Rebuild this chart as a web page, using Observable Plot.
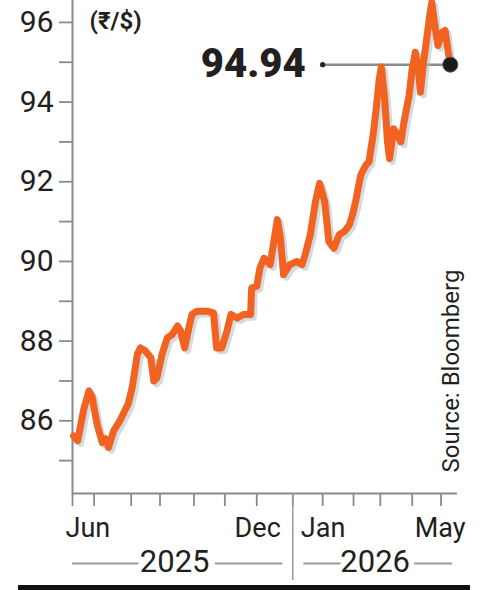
<!DOCTYPE html>
<html>
<head>
<meta charset="utf-8">
<script src="https://cdn.jsdelivr.net/npm/d3@7"></script>
<script src="https://cdn.jsdelivr.net/npm/@observablehq/plot@0.6"></script>
<style>
  html, body { margin: 0; padding: 0; background: #fff; }
  #chart svg { display: block; }
  .bar { margin-left: 18px; width: 452px; height: 5px; background: #111; }
</style>
</head>
<body>
<div id="chart"></div>
<div class="bar"></div>
<script>
// ---- data (₹ per US$) ----
const dates = ["2025-06-02","2025-06-06","2025-06-12","2025-06-17","2025-06-20","2025-06-25","2025-06-30","2025-07-03","2025-07-06","2025-07-11","2025-07-17","2025-07-25","2025-07-29","2025-08-03","2025-08-06","2025-08-11","2025-08-16","2025-08-19","2025-08-22","2025-08-27","2025-09-01","2025-09-06","2025-09-11","2025-09-14","2025-09-18","2025-09-22","2025-09-25","2025-09-30","2025-10-10","2025-10-16","2025-10-19","2025-10-24","2025-10-29","2025-11-02","2025-11-08","2025-11-14","2025-11-21","2025-11-22","2025-11-27","2025-11-30","2025-12-04","2025-12-10","2025-12-17","2025-12-20","2025-12-23","2025-12-29","2026-01-05","2026-01-10","2026-01-13","2026-01-18","2026-01-23","2026-01-27","2026-02-01","2026-02-05","2026-02-10","2026-02-15","2026-02-20","2026-02-25","2026-02-28","2026-03-03","2026-03-08","2026-03-13","2026-03-16","2026-03-20","2026-03-23","2026-03-26","2026-03-28","2026-03-31","2026-04-03","2026-04-05","2026-04-09","2026-04-13","2026-04-16","2026-04-19","2026-04-24","2026-04-27","2026-04-30","2026-05-03","2026-05-05","2026-05-08","2026-05-11","2026-05-14","2026-05-16","2026-05-19","2026-05-22","2026-05-26","2026-05-29","2026-06-01","2026-06-03"];
const rupeePerDollar = [85.62,85.5,86.3,86.75,86.6,85.9,85.45,85.55,85.33,85.75,86.0,86.42,86.83,87.67,87.83,87.75,87.58,87.0,87.08,87.67,88.08,88.17,88.38,88.25,87.83,88.33,88.67,88.75,88.75,88.71,87.83,87.83,88.25,88.67,88.58,88.67,88.67,89.33,89.38,89.83,90.08,89.92,91.05,90.6,89.67,89.92,90.0,89.92,90.17,90.67,91.5,91.96,91.5,90.5,90.33,90.67,90.75,90.92,91.17,91.5,92.17,92.42,92.5,93.17,93.83,94.58,94.88,94.17,93.0,92.58,93.33,93.17,93.0,93.5,94.17,94.83,95.25,94.83,94.25,95.0,95.58,96.17,96.5,95.92,95.42,95.75,95.8,95.25,94.94];

const yTicks = [85,86,87,88,89,90,91,92,93,94,95,96];
const xTickDates = ["2025-06-01","2025-06-22","2025-07-28","2025-08-25","2025-09-27","2025-10-27","2025-11-27","2026-01-01","2026-01-30","2026-03-01","2026-03-27","2026-04-27","2026-05-25"];
const monthLabels = ["Jun","Dec","Jan","May"];
const yearLabels = ["2025","2026"];
const unitLabel = "(₹/$)";
const sourceLabel = "Source: Bloomberg";

// ---- build ----
const data = dates.map((d, i) => ({date: new Date(d), value: rupeePerDollar[i]}));
const last = data[data.length - 1];
const xDomain = [new Date("2025-06-01"), new Date("2026-06-10")];
const yDomain = [84.175, 96.55];
const yearStart = new Date("2026-01-01");
const leaderStart = new Date("2026-01-30");
const years = [
  {label: yearLabels[0], start: xDomain[0], end: yearStart},
  {label: yearLabels[1], start: yearStart, end: xDomain[1]}
];
const mid = d => new Date((+d.start + +d.end) / 2);

const FONT = "Roboto, 'Noto Sans', 'DejaVu Sans', sans-serif";
const INK = "#231f20";
const GRAY = "#8a8a8a";
const ORANGE = "#f26322";

const plot = Plot.plot({
  width: 494,
  height: 585,
  marginLeft: 72,
  marginRight: 37,
  marginTop: 0,
  marginBottom: 92,
  style: {fontFamily: FONT, background: "white", color: INK},
  x: {type: "utc", domain: xDomain},
  y: {domain: yDomain},
  marks: [
    Plot.ruleX([xDomain[0]], {stroke: GRAY, strokeWidth: 2}),
    Plot.ruleY([yDomain[0]], {stroke: GRAY, strokeWidth: 2}),
    Plot.axisY({ticks: yTicks, tickSize: 13, tickPadding: 6,
      tickFormat: d => d % 2 === 0 ? String(d) : "",
      fontSize: 30, stroke: GRAY, strokeWidth: 1.8, fill: INK, label: null}),
    Plot.axisX({ticks: xTickDates.map(d => new Date(d)), tickSize: 13,
      tickFormat: () => "", stroke: GRAY, strokeWidth: 1.8, label: null}),
    // year divider
    Plot.ruleX([yearStart], {stroke: "#9a9a9a", strokeWidth: 1.5, insetTop: 493, insetBottom: -87}),
    // month labels
    Plot.text([monthLabels[0]], {x: xDomain[0], y: yDomain[0], text: d => d, textAnchor: "start", lineAnchor: "bottom", dx: -7, dy: 43, fontSize: 27, fill: INK}),
    Plot.text([monthLabels[1]], {x: yearStart, y: yDomain[0], text: d => d, textAnchor: "end", lineAnchor: "bottom", dx: -12, dy: 43, fontSize: 27, fill: INK}),
    Plot.text([monthLabels[2]], {x: yearStart, y: yDomain[0], text: d => d, textAnchor: "start", lineAnchor: "bottom", dx: 8, dy: 43, fontSize: 27, fill: INK}),
    Plot.text([monthLabels[3]], {x: xDomain[1], y: yDomain[0], text: d => d, textAnchor: "end", lineAnchor: "bottom", dx: 8, dy: 43, fontSize: 27, fill: INK}),
    // year brackets
    Plot.ruleY([years[0]], {x1: "start", x2: "end", y: () => yDomain[0], dy: 70, insetRight: 10, stroke: "#9a9a9a", strokeWidth: 2}),
    Plot.ruleY([years[1]], {x1: "start", x2: "end", y: () => yDomain[0], dy: 70, insetLeft: 11, insetRight: 5, stroke: "#9a9a9a", strokeWidth: 2}),
    Plot.text([years[0]], {x: mid, y: () => yDomain[0], text: "label", dx: -8, dy: 78, lineAnchor: "bottom", fontSize: 31, fill: INK, stroke: "white", strokeWidth: 13, paintOrder: "stroke"}),
    Plot.text([years[1]], {x: mid, y: () => yDomain[0], text: "label", dy: 78, lineAnchor: "bottom", fontSize: 31, fill: INK, stroke: "white", strokeWidth: 11, paintOrder: "stroke"}),
    // unit + source
    Plot.text([unitLabel], {frameAnchor: "top-left", text: d => d, textAnchor: "start", lineAnchor: "top", dx: 17, dy: 11, fontSize: 24, fontWeight: 700, fill: INK}),
    Plot.text([sourceLabel], {frameAnchor: "bottom-right", text: d => d, rotate: -90, textAnchor: "start", lineAnchor: "bottom", dx: 1, dy: -21, fontSize: 24, fill: INK}),
    // leader
    Plot.ruleY([last], {x1: () => leaderStart, x2: "date", y: "value", stroke: "#8c8c8c", strokeWidth: 2.5}),
    // line with shadow
    Plot.line(data, {x: "date", y: "value", stroke: "#aebbc7", strokeWidth: 6.5, dx: 3, dy: 3, strokeOpacity: 0.55, strokeLinejoin: "round"}),
    Plot.line(data, {x: "date", y: "value", stroke: ORANGE, strokeWidth: 7, strokeLinejoin: "round", strokeLinecap: "round"}),
    Plot.dot([last], {x: () => leaderStart, y: "value", r: 2.6, fill: "#222"}),
    Plot.dot([last], {x: "date", y: "value", r: 7.5, fill: "#1a1a1a", stroke: "#555", strokeWidth: 1}),
    Plot.text([last], {x: () => leaderStart, y: "value", text: d => d.value.toFixed(2), textAnchor: "end", lineAnchor: "middle", dx: -17, fontSize: 40, fontWeight: 900, fill: INK})
  ]
});
document.getElementById("chart").append(plot);
</script>
</body>
</html>
